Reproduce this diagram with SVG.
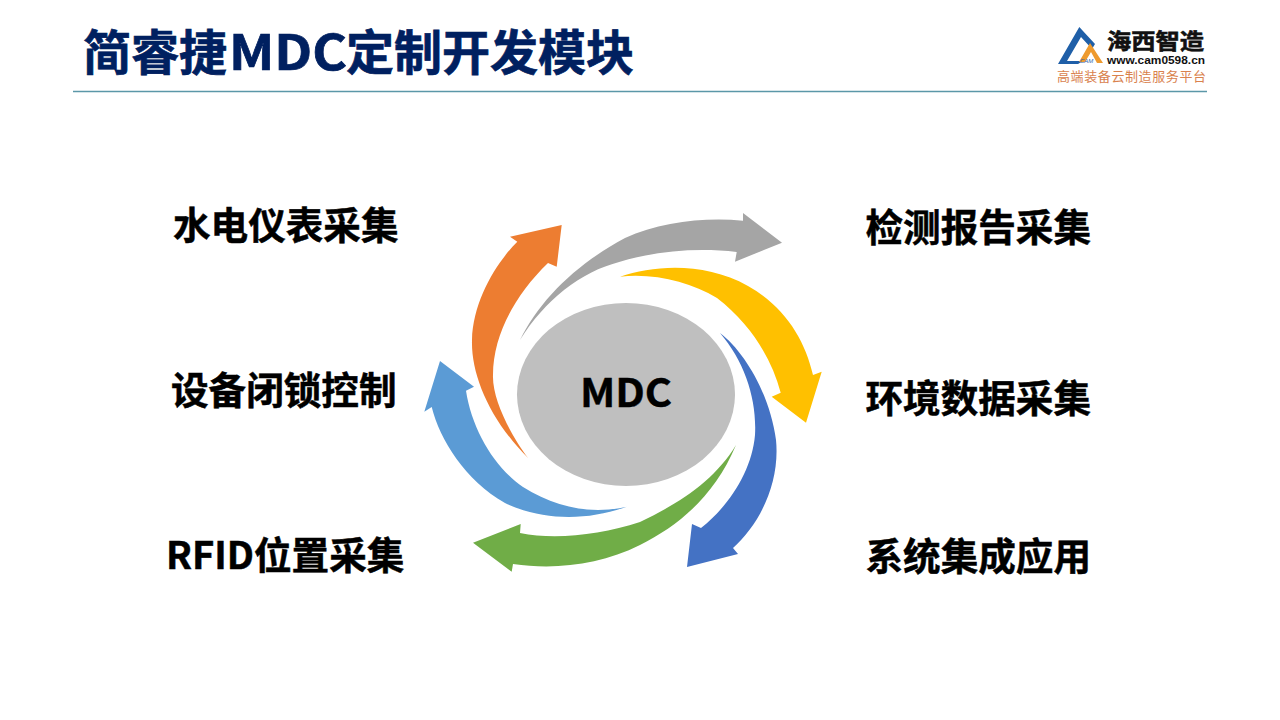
<svg xmlns="http://www.w3.org/2000/svg" width="1280" height="720" viewBox="0 0 1280 720">
<style>
text{font-family:"Noto Sans CJK SC","Noto Sans",sans-serif;font-weight:700}
.t{font-size:48px;fill:#002060;stroke:#002060;stroke-width:.7px}
.l{font-size:37.6px;fill:#000;stroke:#000;stroke-width:.5px}
</style>
<rect width="1280" height="720" fill="#fff"/>
<g id="title"><text class="t" x="83" y="70">简睿捷</text><text class="t" x="229" y="70" textLength="118" lengthAdjust="spacingAndGlyphs">MDC</text><text class="t" x="346" y="70">定制开发模块</text></g>
<line id="rule" x1="73" y1="91.5" x2="1207" y2="91.5" stroke="#5B97A8" stroke-width="1.3"/>
<g id="logo">
<path d="M1079.3 27L1058 64H1078L1083 61H1067L1081 37L1092 49L1095 44Z" fill="#1F5FA8"/>
<path d="M1090 43L1079 62H1085L1091 52L1097 63H1103Z" fill="#EE9A2E"/>
<text x="1080" y="63" font-size="6" style="font-family:'Liberation Sans',sans-serif;font-style:italic;font-weight:400" fill="#1F5FA8">CAM</text>
<text x="1107" y="48.5" font-size="22" textLength="97" lengthAdjust="spacingAndGlyphs" fill="#111" stroke="#111" stroke-width=".6">海西智造</text>
<text x="1107" y="63.5" font-size="10" textLength="98" lengthAdjust="spacingAndGlyphs" fill="#111" style="font-family:'Liberation Sans',sans-serif">www.cam0598.cn</text>
<text x="1057" y="81" font-size="13" textLength="149" fill="#D9824E" style="font-weight:400">高端装备云制造服务平台</text>
</g>
<g id="connectors">
<path id="arrow-orange" fill="#ED7D31" d="M561.7 225L510 236.7L517.3 241.7C497 262 473 300 472 340C471 375 490 420 528.3 458.3C512 437 492 400 493 375C493 335 515 295 548 263L556.7 266.7Z"/>
<path id="arrow-gray" fill="#A5A5A5" d="M520 340C540 300 575 265 625 238C660 222 705 217 743 220.7L743 213L782 242.7L735 261.7L736.7 252C700 248 660 250 620 261.7C580 272 545 300 520 340Z"/>
<path id="arrow-yellow" fill="#FFC000" d="M620 276.7C655 265 705 262 748 286C785 307 805 340 813 375L821.7 371.7L806 422.7L771.7 396.7L780.7 392.7C772 360 752 325 717 298C690 282 655 273 620 276.7Z"/>
<path id="arrow-blue" fill="#4472C4" d="M720 333C745 352 770 395 776 440C780 480 762 522 733 548L738 554L687 567L692 524L701 528C730 505 752 470 755 435C757 400 745 362 720 333Z"/>
<path id="arrow-green" fill="#70AD47" d="M736 445C715 480 680 503 640 522C600 535 555 540 520 533L520.7 524L473 542.7L511.7 571.7L513 564C555 570 600 565 640 545C680 525 715 495 736 445Z"/>
<path id="arrow-lightblue" fill="#5B9BD5" d="M626.7 506.7C590 515 555 507 523 487C495 468 472 430 466 390.7L474 386.7L440 361L424.3 411.7L431.7 407C440 440 465 480 505 503C545 522 590 520 626.7 506.7Z"/>
</g>
<g id="hub"><ellipse cx="626" cy="394.5" rx="109" ry="91.5" fill="#BFBFBF"/><text x="580" y="406.8" font-size="39" textLength="92" lengthAdjust="spacingAndGlyphs" fill="#000" stroke="#000" stroke-width=".4">MDC</text></g>
<g id="n1"><text class="l" x="173" y="239">水电仪表采集</text></g>
<g id="n2"><text class="l" x="171" y="404">设备闭锁控制</text></g>
<g id="n3"><text class="l" x="166" y="569" textLength="88" lengthAdjust="spacingAndGlyphs">RFID</text><text class="l" x="254" y="569">位置采集</text></g>
<g id="n4"><text class="l" x="865.5" y="241">检测报告采集</text></g>
<g id="n5"><text class="l" x="865.5" y="412">环境数据采集</text></g>
<g id="n6"><text class="l" x="865.5" y="570">系统集成应用</text></g>
</svg>
